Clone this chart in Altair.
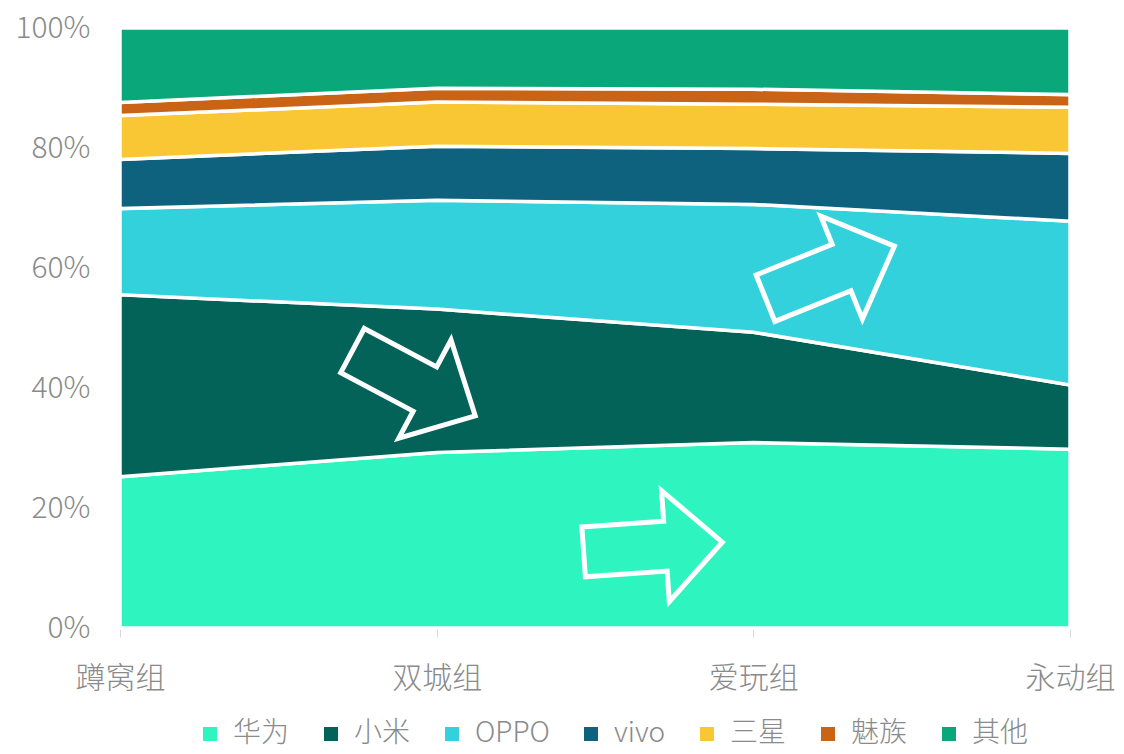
import json
import altair as alt
import pandas as pd

groups = ["蹲窝组", "双城组", "爱玩组", "永动组"]
brands = ["华为", "小米", "OPPO", "vivo", "三星", "魅族", "其他"]
colors = ["#2EF5C0", "#036358", "#33D1DC", "#0E627E", "#F9C734", "#C96416", "#0AA77A"]

huawei = [25.2, 29.25, 30.9, 29.8]
xiaomi = [30.35, 23.9, 18.4, 10.7]
oppo = [14.35, 18.15, 21.3, 27.3]
vivo = [8.2, 9.0, 9.3, 11.3]
samsung = [7.3, 7.35, 7.4, 7.7]
meizu = [2.2, 2.3, 2.5, 2.1]
other = [12.4, 10.05, 10.2, 11.1]

series = [huawei, xiaomi, oppo, vivo, samsung, meizu, other]

# decorative arrows (in data space: group index, share)
arrow_x = [1.683, 0.928, 2.242]
arrow_y = [0.135, 0.408, 0.593]
arrow_angle = [356, 28, 338]

rows = []
for bi, (b, vals) in enumerate(zip(brands, series)):
    for gi, v in enumerate(vals):
        rows.append({"gi": gi, "brand": b, "order": bi, "value": v})
df = pd.DataFrame(rows)
arrows = pd.DataFrame({"ax": arrow_x, "ay": arrow_y, "angle": arrow_angle})

FONT = "Noto Sans CJK SC"
GRAY = "#8a8a8a"

label_expr = json.dumps(groups, ensure_ascii=False) + "[datum.value]"

x_scale = alt.Scale(domain=[0, 3], nice=False, zero=False)
y_scale = alt.Scale(domain=[0, 1], nice=False)

area = alt.Chart(df).mark_area(
    stroke="white", strokeWidth=3.5, interpolate="linear", opacity=1
).encode(
    x=alt.X("gi:Q", scale=x_scale, axis=alt.Axis(
        values=[0, 1, 2, 3], labelExpr=label_expr, title=None, grid=False,
        domainColor="#d9d9d9", tickColor="#d9d9d9", tickSize=9,
        labelFontSize=30, labelColor=GRAY, labelFont=FONT, labelFontWeight=300,
        labelPadding=26, labelOverlap=False, labelBound=False, labelFlush=False)),
    y=alt.Y("value:Q", stack="normalize", scale=y_scale, axis=alt.Axis(
        values=[0, 0.2, 0.4, 0.6, 0.8, 1.0], format=".0%", title=None, grid=False,
        domain=False, ticks=False, labelPadding=30, labelFontSize=30,
        labelColor=GRAY, labelFont=FONT, labelFontWeight=300)),
    color=alt.Color("brand:N", scale=alt.Scale(domain=brands, range=colors),
                    legend=alt.Legend(
                        orient="none", legendX=76, legendY=692, direction="horizontal",
                        columns=7, symbolType="square", symbolSize=196,
                        symbolStrokeWidth=0, labelFontSize=28, labelColor=GRAY,
                        labelFont=FONT, labelFontWeight=300, columnPadding=27,
                        labelOffset=9, title=None, padding=0)),
    order=alt.Order("order:Q", sort="ascending"),
)

arrow_path = "M-1,-0.36L0.18,-0.36L0.18,-0.8L1,0L0.18,0.8L0.18,0.36L-1,0.36Z"
arrow_layer = alt.Chart(arrows).mark_point(
    shape=arrow_path, filled=False, stroke="white", strokeWidth=5,
    size=19321, strokeJoin="miter", opacity=1
).encode(
    x=alt.X("ax:Q", scale=x_scale),
    y=alt.Y("ay:Q", scale=y_scale),
    angle=alt.Angle("angle:Q", scale=None),
)

chart = alt.layer(area, arrow_layer).properties(
    width=950, height=600,
    autosize=alt.AutoSizeParams(type="none"),
    padding={"left": 112, "top": 20, "right": 46, "bottom": 118},
).configure_view(stroke=None)

chart.save("out.html", embed_options={"renderer": "svg", "actions": False})
